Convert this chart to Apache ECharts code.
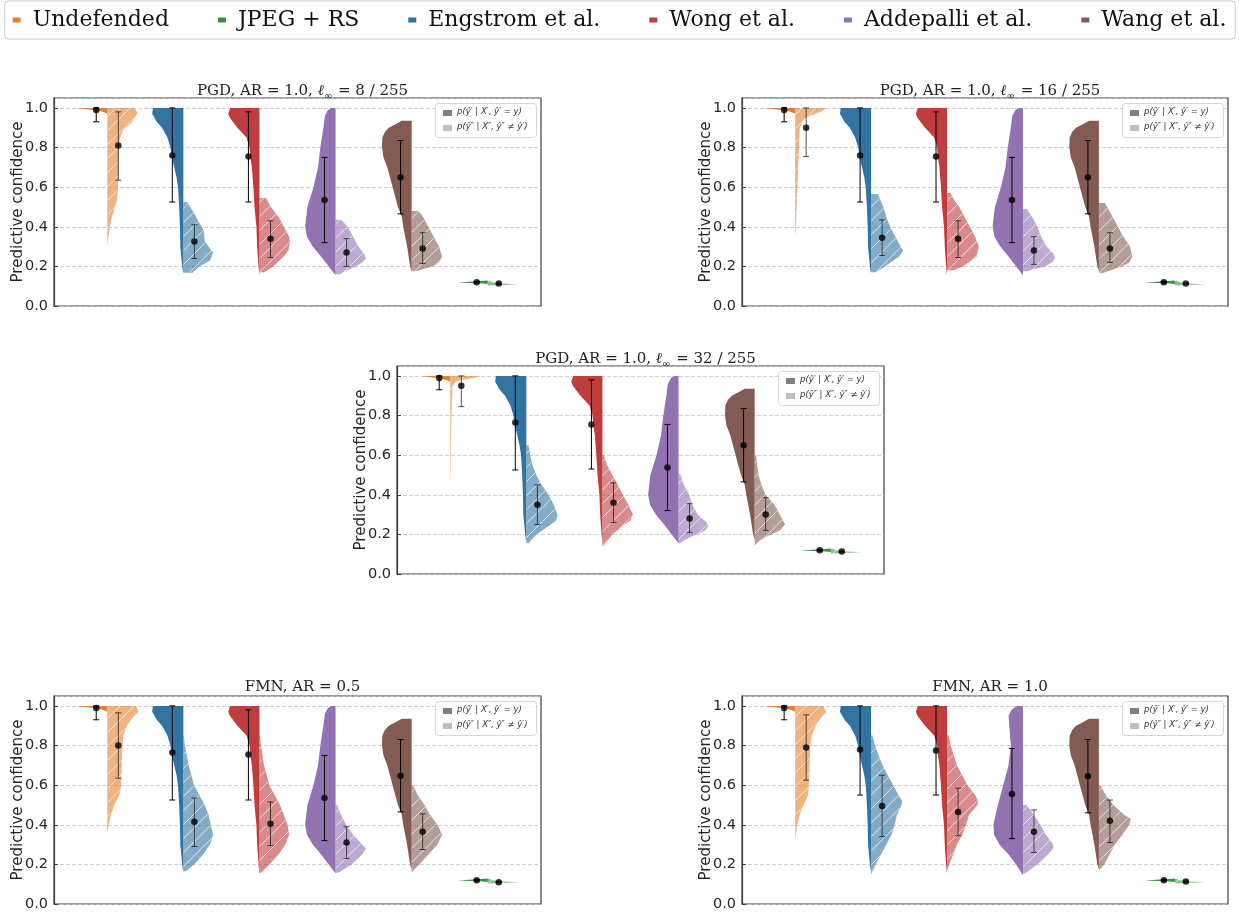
<!DOCTYPE html>
<html><head><meta charset="utf-8">
<script src="https://cdn.jsdelivr.net/npm/echarts@6/dist/echarts.min.js"></script>
<style>html,body{margin:0;padding:0;background:#fff}#c{width:1239px;height:913px}</style>
</head><body><div id="c"></div>
<script>
// ---------- categories / colours ----------
const groupNames = ['Undefended','Engstrom et al.','Wong et al.','Addepalli et al.','Wang et al.','JPEG + RS'];
const groupColors = ['#e1812c','#3274a1','#c03d3e','#9372b2','#845b53','#3a923a'];
const legendOrder = ['Undefended','JPEG + RS','Engstrom et al.','Wong et al.','Addepalli et al.','Wang et al.'];
const yTickLabels = ['0.0','0.2','0.4','0.6','0.8','1.0'];
const panelTitles = [
  'PGD, AR = 1.0, {l|ℓ}{s|∞} = 8 / 255',
  'PGD, AR = 1.0, {l|ℓ}{s|∞} = 16 / 255',
  'PGD, AR = 1.0, {l|ℓ}{s|∞} = 32 / 255',
  'FMN, AR = 0.5',
  'FMN, AR = 1.0'
];

// ---------- clean-side (dark) violin profiles: [confidence, half width] ----------
const darkUndef = [[0.97,0],[0.98,0.06],[0.99,0.18],[1.0,0.40]];
const darkEngstrom = [[0.17,0.005],[0.2,0.015],[0.3,0.04],[0.4,0.045],[0.5,0.055],[0.6,0.07],[0.65,0.09],[0.7,0.12],[0.75,0.15],[0.8,0.17],[0.85,0.21],[0.9,0.28],[0.93,0.35],[0.97,0.41],[1.0,0.40]];
const darkWong = [[0.15,0],[0.2,0.012],[0.3,0.03],[0.4,0.04],[0.5,0.065],[0.6,0.08],[0.7,0.10],[0.75,0.12],[0.8,0.13],[0.85,0.17],[0.9,0.29],[0.95,0.39],[0.97,0.41],[1.0,0.385]];
const darkAddepalli = [[0.155,0],[0.2,0.09],[0.25,0.19],[0.3,0.3],[0.35,0.375],[0.4,0.4],[0.45,0.385],[0.5,0.37],[0.6,0.29],[0.7,0.23],[0.8,0.2],[0.9,0.16],[0.96,0.14],[0.99,0.1],[1.0,0.06]];
const darkWang = [[0.175,0],[0.2,0.02],[0.3,0.06],[0.4,0.11],[0.45,0.13],[0.5,0.18],[0.6,0.25],[0.7,0.32],[0.75,0.37],[0.8,0.39],[0.85,0.385],[0.88,0.35],[0.9,0.3],[0.92,0.2],[0.935,0.13]];
const darkJpeg = [[0.111,0],[0.115,0.1],[0.119,0.4],[0.122,0.25],[0.126,0.08],[0.129,0]];
const darkAddepalliFmn10 = [[0.145,0],[0.2,0.09],[0.25,0.19],[0.3,0.31],[0.35,0.38],[0.4,0.39],[0.45,0.36],[0.5,0.33],[0.6,0.26],[0.7,0.19],[0.8,0.16],[0.9,0.18],[0.95,0.19],[0.98,0.15],[1.0,0.08]];
const darkShapes = [darkUndef, darkEngstrom, darkWong, darkAddepalli, darkWang, darkJpeg];
const darkShapesFmn10 = [darkUndef, darkEngstrom, darkWong, darkAddepalliFmn10, darkWang, darkJpeg];

// ---------- adversarial-side (light) violin profiles ----------
const lightJpeg = [[0.104,0],[0.107,0.25],[0.11,0.4],[0.114,0.2],[0.12,0.06],[0.126,0.03],[0.128,0]];
const pgd8Light = [
  [[0.31,0],[0.35,0.015],[0.385,0.03],[0.436,0.05],[0.486,0.09],[0.537,0.13],[0.588,0.14],[0.672,0.145],[0.807,0.15],[0.85,0.17],[0.89,0.21],[0.925,0.32],[0.977,0.40],[1.0,0.35]],
  [[0.168,0.12],[0.2,0.21],[0.23,0.35],[0.27,0.39],[0.3,0.33],[0.33,0.28],[0.38,0.27],[0.42,0.21],[0.47,0.14],[0.5,0.09],[0.525,0.05]],
  [[0.17,0.06],[0.2,0.18],[0.25,0.32],[0.28,0.38],[0.32,0.40],[0.35,0.39],[0.4,0.32],[0.45,0.25],[0.5,0.15],[0.545,0.085]],
  [[0.16,0.06],[0.17,0.1],[0.2,0.26],[0.22,0.35],[0.24,0.40],[0.26,0.38],[0.3,0.3],[0.35,0.23],[0.4,0.16],[0.435,0.07]],
  [[0.175,0.05],[0.18,0.1],[0.2,0.27],[0.22,0.36],[0.25,0.40],[0.3,0.36],[0.35,0.29],[0.4,0.22],[0.45,0.15],[0.48,0.09]],
  lightJpeg
];
const pgd16Light = [
  [[0.35,0],[0.4,0.01],[0.5,0.02],[0.6,0.03],[0.7,0.04],[0.8,0.05],[0.9,0.06],[0.94,0.11],[0.96,0.2],[0.98,0.34],[1.0,0.41]],
  [[0.17,0.06],[0.2,0.18],[0.25,0.37],[0.28,0.42],[0.3,0.39],[0.35,0.32],[0.4,0.25],[0.45,0.2],[0.5,0.16],[0.565,0.09]],
  [[0.18,0.08],[0.2,0.21],[0.25,0.39],[0.3,0.42],[0.35,0.37],[0.4,0.3],[0.45,0.23],[0.5,0.16],[0.55,0.07],[0.57,0.05]],
  [[0.175,0.06],[0.18,0.1],[0.2,0.29],[0.22,0.38],[0.24,0.42],[0.26,0.41],[0.3,0.31],[0.35,0.24],[0.4,0.19],[0.45,0.12],[0.49,0.05]],
  [[0.165,0.05],[0.17,0.08],[0.2,0.3],[0.22,0.4],[0.25,0.44],[0.3,0.41],[0.35,0.32],[0.4,0.25],[0.45,0.18],[0.52,0.08]],
  lightJpeg
];
const pgd32Light = [
  [[0.45,0],[0.5,0.004],[0.6,0.008],[0.8,0.015],[0.9,0.025],[0.95,0.03],[0.97,0.07],[0.98,0.16],[0.99,0.3],[1.0,0.40]],
  [[0.155,0.03],[0.2,0.13],[0.25,0.32],[0.27,0.39],[0.3,0.41],[0.35,0.36],[0.4,0.29],[0.45,0.2],[0.5,0.13],[0.55,0.08],[0.6,0.05],[0.65,0.03]],
  [[0.135,0],[0.15,0.03],[0.2,0.13],[0.25,0.29],[0.27,0.37],[0.3,0.4],[0.35,0.34],[0.4,0.27],[0.45,0.2],[0.5,0.13],[0.55,0.06],[0.6,0.02]],
  [[0.155,0.02],[0.17,0.07],[0.2,0.23],[0.22,0.35],[0.24,0.39],[0.26,0.37],[0.3,0.25],[0.35,0.18],[0.4,0.14],[0.45,0.07],[0.505,0.02]],
  [[0.145,0],[0.17,0.07],[0.2,0.21],[0.22,0.33],[0.25,0.4],[0.3,0.33],[0.35,0.26],[0.4,0.14],[0.45,0.09],[0.5,0.05],[0.6,0.02]],
  lightJpeg
];
const fmn05Light = [
  [[0.355,0],[0.4,0.02],[0.45,0.05],[0.5,0.09],[0.55,0.16],[0.6,0.18],[0.7,0.19],[0.8,0.2],[0.85,0.21],[0.9,0.26],[0.94,0.33],[0.97,0.41],[1.0,0.38]],
  [[0.165,0.03],[0.17,0.05],[0.2,0.14],[0.25,0.26],[0.3,0.35],[0.35,0.39],[0.4,0.36],[0.45,0.33],[0.5,0.28],[0.55,0.21],[0.6,0.14],[0.7,0.07],[0.8,0.02],[0.85,0.005]],
  [[0.155,0],[0.16,0.04],[0.2,0.13],[0.25,0.25],[0.3,0.34],[0.35,0.39],[0.4,0.37],[0.45,0.32],[0.5,0.27],[0.55,0.2],[0.6,0.13],[0.7,0.06],[0.8,0.02],[0.85,0.005]],
  [[0.155,0],[0.16,0.05],[0.2,0.21],[0.25,0.35],[0.28,0.4],[0.3,0.35],[0.35,0.23],[0.4,0.14],[0.45,0.07],[0.5,0.02]],
  [[0.16,0],[0.2,0.1],[0.25,0.22],[0.3,0.34],[0.35,0.4],[0.4,0.34],[0.45,0.24],[0.5,0.17],[0.55,0.08],[0.6,0.02]],
  lightJpeg
];
const fmn10Light = [
  [[0.33,0],[0.35,0.01],[0.4,0.03],[0.45,0.06],[0.5,0.11],[0.55,0.17],[0.6,0.18],[0.7,0.19],[0.8,0.2],[0.85,0.22],[0.9,0.27],[0.94,0.34],[0.97,0.41],[1.0,0.37]],
  [[0.15,0],[0.2,0.06],[0.25,0.13],[0.3,0.2],[0.35,0.27],[0.4,0.31],[0.45,0.34],[0.5,0.4],[0.52,0.41],[0.55,0.36],[0.6,0.29],[0.7,0.15],[0.8,0.05],[0.85,0.02]],
  [[0.17,0],[0.2,0.03],[0.25,0.08],[0.3,0.13],[0.35,0.2],[0.4,0.25],[0.45,0.29],[0.5,0.4],[0.52,0.41],[0.55,0.37],[0.6,0.27],[0.7,0.13],[0.8,0.05],[0.85,0.02]],
  [[0.15,0],[0.16,0.05],[0.2,0.19],[0.25,0.33],[0.28,0.4],[0.3,0.4],[0.35,0.3],[0.4,0.23],[0.45,0.14],[0.5,0.05]],
  [[0.17,0],[0.2,0.07],[0.25,0.14],[0.3,0.21],[0.35,0.31],[0.4,0.4],[0.43,0.42],[0.45,0.33],[0.5,0.19],[0.55,0.09],[0.6,0.02]],
  lightJpeg
];

// ---------- means and error bars ----------
const pgd8DarkMean  = [0.99, 0.76, 0.755, 0.535, 0.65, 0.12];
const pgd8DarkLo    = [0.93, 0.525, 0.525, 0.32, 0.465, 0.116];
const pgd8DarkHi    = [1.0, 1.0, 0.98, 0.75, 0.835, 0.124];
const pgd8LightMean = [0.81, 0.325, 0.34, 0.27, 0.29, 0.113];
const pgd8LightLo   = [0.635, 0.24, 0.245, 0.2, 0.215, 0.11];
const pgd8LightHi   = [0.98, 0.41, 0.43, 0.34, 0.37, 0.116];

const pgd16DarkMean  = [0.99, 0.76, 0.755, 0.535, 0.65, 0.12];
const pgd16DarkLo    = [0.93, 0.525, 0.525, 0.32, 0.465, 0.116];
const pgd16DarkHi    = [1.0, 1.0, 0.98, 0.75, 0.835, 0.124];
const pgd16LightMean = [0.9, 0.345, 0.34, 0.28, 0.29, 0.113];
const pgd16LightLo   = [0.755, 0.255, 0.245, 0.21, 0.22, 0.11];
const pgd16LightHi   = [1.0, 0.435, 0.43, 0.35, 0.37, 0.116];

const pgd32DarkMean  = [0.99, 0.765, 0.755, 0.537, 0.65, 0.12];
const pgd32DarkLo    = [0.93, 0.525, 0.53, 0.32, 0.465, 0.116];
const pgd32DarkHi    = [1.0, 1.0, 0.98, 0.755, 0.835, 0.124];
const pgd32LightMean = [0.95, 0.35, 0.36, 0.28, 0.3, 0.113];
const pgd32LightLo   = [0.845, 0.25, 0.26, 0.21, 0.22, 0.11];
const pgd32LightHi   = [1.0, 0.45, 0.46, 0.355, 0.385, 0.116];

const fmn05DarkMean  = [0.99, 0.765, 0.755, 0.535, 0.648, 0.12];
const fmn05DarkLo    = [0.93, 0.525, 0.525, 0.32, 0.465, 0.116];
const fmn05DarkHi    = [1.0, 1.0, 0.98, 0.75, 0.83, 0.124];
const fmn05LightMean = [0.8, 0.415, 0.405, 0.31, 0.365, 0.11];
const fmn05LightLo   = [0.635, 0.29, 0.295, 0.23, 0.275, 0.107];
const fmn05LightHi   = [0.965, 0.535, 0.515, 0.39, 0.455, 0.113];

const fmn10DarkMean  = [0.99, 0.78, 0.775, 0.555, 0.645, 0.12];
const fmn10DarkLo    = [0.93, 0.55, 0.55, 0.33, 0.46, 0.116];
const fmn10DarkHi    = [1.0, 1.0, 1.0, 0.785, 0.83, 0.124];
const fmn10LightMean = [0.79, 0.495, 0.465, 0.365, 0.42, 0.113];
const fmn10LightLo   = [0.625, 0.34, 0.345, 0.26, 0.31, 0.11];
const fmn10LightHi   = [0.955, 0.65, 0.585, 0.475, 0.525, 0.116];

// ---------- layout ----------
const layouts = [
  {left:54, top:98, width:487, height:208},
  {left:742, top:98, width:486, height:208},
  {left:397, top:366, width:487, height:208},
  {left:54, top:696, width:487, height:208},
  {left:742, top:696, width:486, height:208}
];
const panels = [
  {dark: darkShapes, light: pgd8Light, dm: pgd8DarkMean, dl: pgd8DarkLo, dh: pgd8DarkHi, lm: pgd8LightMean, ll: pgd8LightLo, lh: pgd8LightHi},
  {dark: darkShapes, light: pgd16Light, dm: pgd16DarkMean, dl: pgd16DarkLo, dh: pgd16DarkHi, lm: pgd16LightMean, ll: pgd16LightLo, lh: pgd16LightHi},
  {dark: darkShapes, light: pgd32Light, dm: pgd32DarkMean, dl: pgd32DarkLo, dh: pgd32DarkHi, lm: pgd32LightMean, ll: pgd32LightLo, lh: pgd32LightHi},
  {dark: darkShapes, light: fmn05Light, dm: fmn05DarkMean, dl: fmn05DarkLo, dh: fmn05DarkHi, lm: fmn05LightMean, ll: fmn05LightLo, lh: fmn05LightHi},
  {dark: darkShapesFmn10, light: fmn10Light, dm: fmn10DarkMean, dl: fmn10DarkLo, dh: fmn10DarkHi, lm: fmn10LightMean, ll: fmn10LightLo, lh: fmn10LightHi}
];
const MEAN_OFFSET = 0.145;

function rgba(hex, a) {
  const n = parseInt(hex.slice(1), 16);
  return 'rgba(' + ((n >> 16) & 255) + ',' + ((n >> 8) & 255) + ',' + (n & 255) + ',' + a + ')';
}
function hatch(pts, step) {
  let mn = Infinity, mx = -Infinity;
  pts.forEach(p => { const s = p[0] + p[1]; mn = Math.min(mn, s); mx = Math.max(mx, s); });
  const segs = [];
  for (let c = Math.ceil(mn / step) * step; c <= mx; c += step) {
    const xs = [];
    for (let i = 0; i < pts.length; i++) {
      const a = pts[i], b = pts[(i + 1) % pts.length];
      const sa = a[0] + a[1] - c, sb = b[0] + b[1] - c;
      if ((sa < 0) !== (sb < 0)) { const t = sa / (sa - sb); xs.push(a[0] + t * (b[0] - a[0])); }
    }
    xs.sort((u, v) => u - v);
    for (let k = 0; k + 1 < xs.length; k += 2) segs.push([xs[k], c - xs[k], xs[k + 1], c - xs[k + 1]]);
  }
  return segs;
}
function violinRenderer(shapes, side) {
  return function (params, api) {
    const g = api.value(0);
    const shape = shapes[g];
    const pts = [api.coord([g, shape[0][0]])];
    shape.forEach(([y, w]) => pts.push(api.coord([g + side * w, y])));
    pts.push(api.coord([g, shape[shape.length - 1][0]]));
    const col = groupColors[g];
    const children = [{type: 'polygon', shape: {points: pts}, style: {fill: side < 0 ? col : rgba(col, 0.6)}}];
    if (side > 0) {
      hatch(pts, 14).forEach(s => children.push({type: 'line', shape: {x1: s[0], y1: s[1], x2: s[2], y2: s[3]},
        style: {stroke: 'rgba(255,255,255,0.7)', lineWidth: 0.9}}));
    }
    return {type: 'group', children};
  };
}
function errRenderer(side) {
  return function (params, api) {
    const x = api.value(0);
    const a = api.coord([x, api.value(2)]), b = api.coord([x, api.value(1)]);
    const stroke = side < 0 ? '#000' : 'rgba(25,25,25,0.75)';
    const st = {stroke, lineWidth: 1};
    return {type: 'group', children: [
      {type: 'line', shape: {x1: a[0], y1: a[1], x2: b[0], y2: b[1]}, style: st},
      {type: 'line', shape: {x1: a[0] - 3, y1: a[1], x2: a[0] + 3, y2: a[1]}, style: st},
      {type: 'line', shape: {x1: b[0] - 3, y1: b[1], x2: b[0] + 3, y2: b[1]}, style: st}
    ]};
  };
}

const grids = [], xAxes = [], yAxes = [], series = [], titles = [], graphics = [];
panels.forEach((p, i) => {
  const L = layouts[i];
  grids.push({left: L.left, top: L.top, width: L.width, height: L.height, show: true,
    borderColor: '#3d3d3d', borderWidth: 1.2, backgroundColor: 'transparent', containLabel: false});
  xAxes.push({type: 'value', gridIndex: i, min: -0.7, max: 5.7, show: false});
  yAxes.push({type: 'value', gridIndex: i, min: 0, max: 1.05, interval: 0.2, position: 'left',
    name: 'Predictive confidence', nameLocation: 'middle', nameGap: 28, nameMoveOverlap: false,
    nameTextStyle: {fontFamily: 'DejaVu Sans', fontSize: 15, color: '#262626'},
    axisLine: {show: true, onZero: false, lineStyle: {color: '#3d3d3d', width: 1.2}},
    axisTick: {show: true, inside: true, length: 4, lineStyle: {color: '#3d3d3d'}},
    axisLabel: {fontFamily: 'DejaVu Sans', fontSize: 14.5, color: '#262626', margin: 6, showMaxLabel: false,
      formatter: v => { const k = Math.round(v * 5); return Math.abs(v * 5 - k) < 1e-6 ? yTickLabels[k] : ''; }},
    splitLine: {show: true, lineStyle: {type: [4, 2], color: '#c4c4c4', width: 0.8}}
  });
  [[-1, p.dark, p.dm, p.dl, p.dh], [1, p.light, p.lm, p.ll, p.lh]].forEach(([side, shapes, mean, lo, hi]) => {
    series.push({type: 'custom', xAxisIndex: i, yAxisIndex: i, z: 2, silent: true,
      renderItem: violinRenderer(shapes, side),
      data: groupNames.map((_, g) => [g, mean[g]])});
    series.push({type: 'custom', xAxisIndex: i, yAxisIndex: i, z: 3, silent: true,
      renderItem: errRenderer(side),
      data: groupNames.map((_, g) => [g + side * MEAN_OFFSET, lo[g], hi[g]])});
    series.push({type: 'scatter', xAxisIndex: i, yAxisIndex: i, z: 4, silent: true,
      symbol: 'circle', symbolSize: 6.5, itemStyle: {color: '#000'},
      data: groupNames.map((_, g) => [g + side * MEAN_OFFSET, mean[g]])});
  });
  titles.push({text: panelTitles[i], left: L.left + L.width / 2, top: L.top - 21, textAlign: 'center',
    textStyle: {fontFamily: 'DejaVu Serif', fontSize: 15, fontWeight: 'normal', color: '#222',
      rich: {l: {fontFamily: 'DejaVu Serif', fontStyle: 'italic', fontSize: 15, color: '#222'},
             s: {fontFamily: 'DejaVu Sans', fontSize: 10, color: '#222', verticalAlign: 'top', padding: [9, 1, 0, 0]}}}});
  const bx = L.left + L.width - 106, by = L.top + 5;
  graphics.push({type: 'rect', left: bx, top: by, shape: {width: 101, height: 34, r: 3},
    style: {fill: 'rgba(255,255,255,0.85)', stroke: '#d6d6d6', lineWidth: 1}, z: 10});
  graphics.push({type: 'rect', left: bx + 8, top: by + 7, shape: {width: 9, height: 6}, style: {fill: '#7f7f7f'}, z: 11});
  graphics.push({type: 'rect', left: bx + 8, top: by + 22, shape: {width: 9, height: 6}, style: {fill: '#bfbfbf'}, z: 11});
  graphics.push({type: 'text', left: bx + 22, top: by + 4, z: 11,
    style: {text: 'p(ŷ′ | X′, ŷ′ = y)', fontFamily: 'DejaVu Sans', fontStyle: 'italic', fontSize: 8.5, fill: '#333'}});
  graphics.push({type: 'text', left: bx + 22, top: by + 19, z: 11,
    style: {text: 'p(ŷ″ | X″, ŷ″ ≠ ŷ′)', fontFamily: 'DejaVu Sans', fontStyle: 'italic', fontSize: 8.5, fill: '#333'}});
});
// legend proxies
legendOrder.forEach(name => {
  series.push({type: 'line', name, data: [], xAxisIndex: 0, yAxisIndex: 0,
    itemStyle: {color: groupColors[groupNames.indexOf(name)]}, lineStyle: {color: groupColors[groupNames.indexOf(name)]}});
});

const chart = echarts.init(document.getElementById('c'));
chart.setOption({
  animation: false,
  backgroundColor: '#fff',
  title: titles,
  legend: {top: 1, left: 'center', width: 1225, data: legendOrder, icon: 'rect', itemWidth: 8, itemHeight: 5, itemGap: 49,
    textStyle: {fontFamily: 'DejaVu Serif', fontSize: 22, color: '#111', padding: [0, 0, 0, 7]},
    borderColor: '#cccccc', borderWidth: 1, borderRadius: 4, padding: [8, 9, 8, 8], backgroundColor: '#fff'},
  grid: grids, xAxis: xAxes, yAxis: yAxes, series, graphic: graphics
});
</script></body></html>
